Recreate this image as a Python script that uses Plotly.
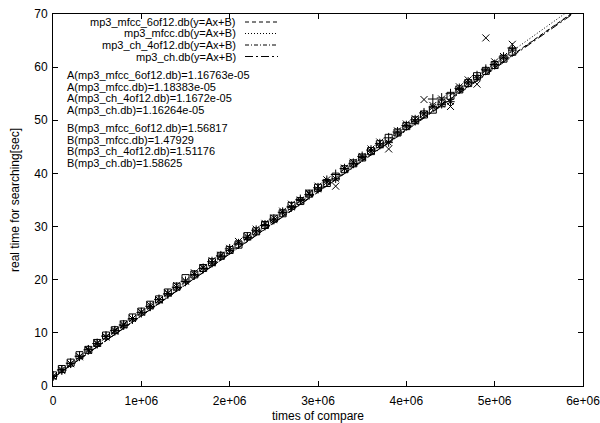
import numpy as np
import plotly.graph_objects as go

# ---- data ----
compares = [k * 100000 for k in range(53)]

y_mfcc_6of12 = [1.9, 3.0, 4.3, 5.6, 6.8, 8.0, 9.4, 10.4, 11.5, 12.6, 13.8, 15.0, 16.3, 17.3, 18.6,
                19.7, 20.9, 22.1, 23.4, 24.5, 25.8, 26.7, 28.0, 29.3, 30.2, 31.4, 32.7, 33.8, 35.1,
                36.0, 37.3, 38.7, 39.8, 40.9, 41.9, 43.2, 44.4, 45.6, 46.7, 47.8, 49.0, 50.1, 51.4,
                54.0, 54.2, 55.0, 56.0, 57.2, 58.4, 59.6, 60.5, 61.9, 63.6]
y_mfcc = [1.8, 2.9, 4.2, 5.5, 6.7, 8.1, 9.2, 10.3, 11.6, 12.7, 13.9, 15.2, 16.2, 17.5, 18.9,
          19.8, 21.3, 22.3, 23.6, 24.6, 25.9, 27.2, 28.1, 29.5, 30.6, 31.6, 32.9, 34.2, 35.0,
          36.3, 37.6, 38.8, 37.6, 41.0, 42.1, 43.2, 44.6, 45.9, 44.6, 48.0, 49.3, 50.3, 53.9,
          52.8, 54.0, 52.6, 56.3, 57.6, 56.8, 65.5, 61.0, 62.0, 64.3]
y_ch_4of12 = [1.8, 3.1, 4.2, 5.6, 6.9, 7.9, 9.3, 10.5, 11.4, 12.7, 13.9, 14.9, 16.2, 17.4, 18.5,
              19.6, 21.0, 22.2, 23.1, 24.4, 25.5, 26.9, 27.9, 29.0, 30.4, 31.2, 32.6, 33.6, 34.9,
              36.1, 37.0, 38.4, 39.0, 40.9, 41.8, 43.0, 44.2, 45.3, 45.8, 47.6, 48.9, 49.8, 51.2,
              52.5, 53.0, 53.5, 55.8, 57.0, 58.0, 59.4, 60.4, 61.7, 63.2]
y_ch = [2.0, 3.2, 4.4, 5.8, 6.8, 8.1, 9.5, 10.5, 11.6, 12.9, 14.0, 15.3, 16.3, 17.6, 18.7,
        20.3, 21.0, 22.2, 23.3, 24.5, 25.6, 26.6, 28.2, 29.1, 30.3, 31.5, 32.5, 33.9, 34.8,
        36.2, 37.3, 38.2, 39.4, 40.8, 41.9, 43.0, 44.2, 45.5, 46.7, 47.7, 48.9, 50.0, 51.1,
        52.0, 53.2, 54.6, 55.8, 57.0, 58.3, 59.3, 60.4, 61.6, 62.9]

db_names = ["mp3_mfcc_6of12.db", "mp3_mfcc.db", "mp3_ch_4of12.db", "mp3_ch.db"]
fit_A = [1.16763e-05, 1.18383e-05, 1.1672e-05, 1.16264e-05]
fit_B = [1.56817, 1.47929, 1.51176, 1.58625]
fit_A_text = ["1.16763e-05", "1.18383e-05", "1.1672e-05", "1.16264e-05"]
fit_B_text = ["1.56817", "1.47929", "1.51176", "1.58625"]

x_tickvals = [0, 1e6, 2e6, 3e6, 4e6, 5e6, 6e6]
x_ticktext = ["0", "1e+06", "2e+06", "3e+06", "4e+06", "5e+06", "6e+06"]
y_tickvals = [0, 10, 20, 30, 40, 50, 60, 70]

# ---- styles ----
FONT = "Liberation Sans, Arial, Helvetica, sans-serif"
point_symbols = ["cross-thin-open", "x-thin-open", "asterisk-open", "square-open"]
line_dashes = ["4px,3px", "1px,2px", "4px,2px,1px,2px", "8px,3px,2px,3px"]
series_y = [y_mfcc_6of12, y_mfcc, y_ch_4of12, y_ch]

fig = go.Figure()

for ys, sym in zip(series_y, point_symbols):
    fig.add_trace(go.Scatter(
        x=compares, y=ys, mode="markers",
        marker=dict(symbol=sym, size=7, color="black", line=dict(color="black", width=1)),
        showlegend=False, hoverinfo="skip"))

xfit = np.array([0, 6e6])
for A, B, dash in zip(fit_A, fit_B, line_dashes):
    fig.add_trace(go.Scatter(
        x=xfit, y=A * xfit + B, mode="lines",
        line=dict(color="black", width=1, dash=dash),
        showlegend=False, hoverinfo="skip"))

# ---- layout geometry (pixels) ----
W, H = 600, 423
L, R, T, Bm = 53, 17, 14, 37
pw, ph = W - L - R, H - T - Bm

def px(xp):
    return (xp - L) / pw

def py(yp):
    return (H - Bm - yp) / ph

TXT = 11
annotations = []
shapes = []
legend_rows = [22, 33.5, 45, 56.5]
for name, dash, yr in zip(db_names, line_dashes, legend_rows):
    annotations.append(dict(x=px(237), y=py(yr), xref="paper", yref="paper",
                            text=f"{name}(y=Ax+B)", showarrow=False,
                            xanchor="right", yanchor="middle", borderpad=0,
                            font=dict(family=FONT, size=TXT, color="black")))
    shapes.append(dict(type="line", xref="paper", yref="paper",
                       x0=px(245), x1=px(278), y0=py(yr), y1=py(yr),
                       line=dict(color="black", width=1, dash=dash)))

a_rows = [75, 86.5, 98, 109.5]
for name, txt, yr in zip(db_names, fit_A_text, a_rows):
    annotations.append(dict(x=px(66), y=py(yr), xref="paper", yref="paper",
                            text=f"A({name})={txt}", showarrow=False,
                            xanchor="left", yanchor="middle", borderpad=0,
                            font=dict(family=FONT, size=TXT, color="black")))
b_rows = [128, 139.5, 151, 162.5]
for name, txt, yr in zip(db_names, fit_B_text, b_rows):
    annotations.append(dict(x=px(66), y=py(yr), xref="paper", yref="paper",
                            text=f"B({name})={txt}", showarrow=False,
                            xanchor="left", yanchor="middle", borderpad=0,
                            font=dict(family=FONT, size=TXT, color="black")))

axis_common = dict(showline=True, linecolor="black", linewidth=1, mirror="allticks",
                   ticks="inside", ticklen=5, tickcolor="black", tickwidth=1,
                   showgrid=False, zeroline=False, automargin=False,
                   ticklabeloverflow="allow",
                   tickfont=dict(family=FONT, size=12, color="black"))

fig.update_layout(
    width=W, height=H,
    margin=dict(l=L, r=R, t=T, b=Bm, autoexpand=False),
    paper_bgcolor="white", plot_bgcolor="white",
    font=dict(family=FONT, size=12, color="black"),
    xaxis=dict(range=[0, 6e6], tickvals=x_tickvals, ticktext=x_ticktext,
               ticklabelstandoff=4,
               title=dict(text="times of compare", standoff=6,
                          font=dict(family=FONT, size=12, color="black")),
               **axis_common),
    yaxis=dict(range=[0, 70], tickvals=y_tickvals, ticklabelstandoff=2,
               title=dict(text="real time for searching[sec]", standoff=12,
                          font=dict(family=FONT, size=12, color="black")),
               **axis_common),
    annotations=annotations, shapes=shapes,
    showlegend=False,
)

fig.write_html("out.html")
